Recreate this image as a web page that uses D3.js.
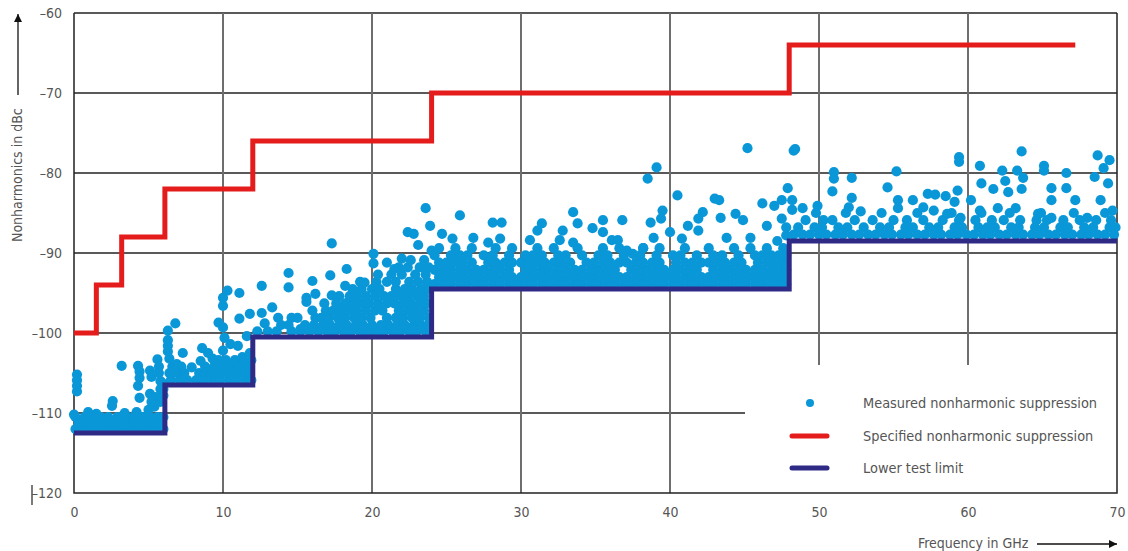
<!DOCTYPE html>
<html>
<head>
<meta charset="utf-8">
<script src="https://cdn.jsdelivr.net/npm/d3@7"></script>
<style>
body { margin: 0; background: #fff; }
svg text { font-family: "Liberation Sans Narrow", "DejaVu Sans Condensed", "Arial Narrow", Arial, sans-serif; fill: #555; }
</style>
</head>
<body>
<div id="chart"></div>
<script>
// axis ticks
const xTicks = [0, 10, 20, 30, 40, 50, 60, 70];
const yTicks = [-60, -70, -80, -90, -100, -110, -120];

// specified nonharmonic suppression (step starts, GHz / dBc)
const specGHz = [0, 1.5, 3.2, 6.1, 12, 24, 48, 67.2];
const specDbc = [-100, -94, -88, -82, -76, -70, -64, -64];

// lower test limit
const limitGHz = [0, 6.1, 12, 24, 48, 70];
const limitDbc = [-112.5, -106.5, -100.5, -94.5, -88.5, -88.5];

// measured points, dense parts as rows: [dBc, [GHz...]]
const dense0to6 = [
  [-112.0, [0.1, 0.6, 1.1, 1.7, 2.2, 2.8, 3.3, 3.9, 4.4, 5.0, 5.5, 6.0]],
  [-111.3, [0.3, 0.9, 1.4, 2.0, 2.5, 3.1, 3.6, 4.2, 4.7, 5.3, 5.8]],
  [-110.5, [0.1, 0.7, 1.2, 1.8, 2.3, 2.9, 3.5, 4.0, 4.6, 5.1, 5.6, 6.0]]
];
const sparse0to6 = [
  [0.2, -105.2], [0.2, -105.9], [0.2, -106.6], [0.2, -107.3], [0.0, -110.2],
  [0.95, -109.9], [1.5, -110.1], [2.55, -109.1], [2.6, -108.5], [3.4, -110.0],
  [4.2, -109.9], [5.0, -109.6], [5.4, -109.2], [5.8, -108.6], [6.0, -107.8],
  [6.0, -107.0], [5.9, -106.2], [3.2, -104.1], [4.3, -104.1], [4.4, -104.8],
  [4.4, -105.6], [4.3, -106.6], [4.4, -108.1], [5.1, -104.7], [5.2, -105.5],
  [5.1, -107.6], [5.6, -103.3], [5.7, -104.2], [5.7, -105.0], [5.8, -106.0],
  [5.8, -107.0], [5.5, -108.0], [5.2, -108.6]
];

const dense6to12 = [
  [-105.9, [6.5, 7.1, 7.6, 8.2, 8.7, 9.3, 9.8, 10.4, 10.9, 11.5, 11.9]],
  [-105.0, [6.4, 6.9, 7.4, 8.4, 9.0, 9.6, 10.1, 10.7, 11.2, 11.7]],
  [-104.2, [6.6, 7.2, 8.8, 9.4, 9.9, 10.5, 11.0, 11.6]],
  [-103.4, [10.2, 10.8, 11.3, 11.9]]
];
const sparse6to12 = [
  [6.3, -99.7], [6.8, -98.8], [6.3, -100.9], [6.3, -101.6], [6.3, -102.3],
  [6.4, -103.2], [6.9, -103.9], [7.3, -102.5], [7.3, -105.6], [8.6, -101.9],
  [8.5, -103.5], [9.3, -103.2], [9.0, -102.5], [9.7, -103.4], [10.0, -102.2],
  [10.5, -101.4], [11.0, -101.6], [11.3, -103.0], [11.8, -102.5], [11.6, -100.4],
  [10.0, -95.6], [10.3, -94.7], [11.1, -95.0], [10.0, -96.6], [9.7, -98.7],
  [10.0, -99.3], [11.1, -98.2], [11.8, -97.6], [10.1, -100.6], [7.9, -104.3]
];

const dense12to24 = [
  [-99.8, [12.3, 13.0, 13.6, 14.6, 15.2, 15.8, 16.4, 17.0, 17.5, 18.1, 18.6, 19.2, 19.7, 20.3, 20.8, 21.4, 21.9, 22.5, 23.0, 23.6]],
  [-99.0, [13.9, 14.4, 15.5, 16.1, 16.7, 17.2, 17.8, 18.3, 18.9, 19.4, 20.0, 20.6, 21.1, 21.7, 22.2, 22.8, 23.3, 23.8]],
  [-98.1, [15.0, 16.2, 16.6, 17.1, 17.7, 18.2, 18.8, 19.3, 19.9, 21.0, 21.6, 22.1, 22.7, 23.2, 23.8]],
  [-97.2, [16.0, 16.9, 17.4, 17.9, 18.5, 19.0, 19.6, 20.2, 20.7, 21.8, 22.4, 22.9, 23.5]],
  [-96.3, [16.8, 17.6, 18.2, 18.7, 19.3, 19.8, 20.4, 21.0, 21.5, 22.1, 22.6, 23.2, 23.7]],
  [-95.4, [17.8, 18.5, 19.0, 19.6, 20.2, 20.8, 21.3, 21.9, 22.4, 23.0, 23.5]],
  [-94.5, [18.7, 19.3, 20.0, 20.5, 21.6, 22.2, 22.7, 23.3, 23.8]],
  [-93.6, [19.2, 20.3, 21.0, 21.6, 22.5, 23.1, 23.7]],
  [-92.7, [20.4, 21.3, 22.0, 22.9, 23.6]],
  [-91.8, [21.8, 22.4, 23.2, 23.8]],
  [-90.9, [22.6, 23.5]]
];
const sparse12to24 = [
  [12.6, -94.1], [12.6, -97.5], [13.3, -96.8], [12.8, -98.8], [13.7, -98.1],
  [14.6, -98.1], [15.2, -99.5], [14.4, -92.5], [14.4, -94.3], [16.0, -93.5],
  [17.2, -92.8], [17.3, -88.8], [18.3, -92.0], [15.6, -95.6], [15.6, -96.1],
  [16.2, -95.1], [17.3, -95.3], [18.2, -94.1], [19.5, -93.7], [20.1, -90.1],
  [20.1, -91.3], [21.5, -92.0], [22.0, -90.7], [22.4, -87.4], [22.8, -87.6],
  [23.6, -84.4], [23.9, -86.6], [24.0, -89.7], [23.1, -89.0], [21.0, -91.2]
];

const dense24to48 = [
  [-93.9, [24.2, 24.8, 25.3, 25.9, 26.4, 27.0, 27.5, 28.1, 28.6, 29.2, 29.7, 30.3, 30.8, 31.4, 31.9, 32.5, 33.0, 33.6, 34.1, 34.7, 35.2, 35.8, 36.3, 36.9, 37.4, 38.0, 38.5, 39.1, 39.6, 40.2, 40.7, 41.3, 41.8, 42.4, 42.9, 43.5, 44.0, 44.6, 45.1, 45.7, 46.2, 46.8, 47.3, 47.8]],
  [-93.0, [24.5, 25.0, 25.6, 26.1, 26.7, 27.2, 27.8, 28.3, 28.9, 29.4, 30.0, 30.5, 31.1, 31.6, 32.2, 32.7, 33.3, 33.8, 34.4, 34.9, 35.5, 36.0, 36.6, 37.1, 37.7, 38.2, 38.8, 39.3, 39.9, 40.4, 41.0, 41.5, 42.1, 42.6, 43.2, 43.7, 44.3, 44.8, 45.4, 45.9, 46.5, 47.0, 47.6]],
  [-92.1, [24.2, 24.8, 25.3, 25.9, 26.4, 27.0, 27.5, 28.1, 28.6, 29.2, 30.3, 30.8, 31.4, 31.9, 32.5, 33.0, 33.6, 34.1, 34.7, 35.2, 35.8, 36.3, 37.4, 38.0, 38.5, 39.1, 39.6, 40.2, 40.7, 41.3, 41.8, 42.9, 43.5, 44.0, 44.6, 45.1, 45.7, 46.2, 46.8, 47.3, 47.8]],
  [-91.2, [24.5, 25.0, 25.6, 26.1, 26.7, 27.8, 28.3, 28.9, 29.4, 30.0, 30.5, 31.1, 31.6, 32.2, 32.7, 33.3, 34.4, 34.9, 35.5, 36.0, 36.6, 37.1, 37.7, 38.2, 38.8, 39.3, 40.4, 41.0, 41.5, 42.1, 42.6, 43.2, 43.7, 44.3, 44.8, 45.9, 46.5, 47.0, 47.6]],
  [-90.3, [24.2, 25.3, 25.9, 26.4, 27.5, 28.1, 29.2, 30.3, 30.8, 31.4, 32.5, 33.0, 34.1, 35.2, 35.8, 36.9, 38.0, 39.1, 40.2, 40.7, 41.8, 42.9, 43.5, 44.6, 45.7, 46.2, 46.8, 47.3, 47.8]],
  [-89.4, [24.5, 25.6, 26.7, 28.3, 29.4, 31.1, 32.2, 33.8, 35.5, 36.6, 38.2, 39.3, 41.0, 42.6, 44.3, 45.4, 46.5, 47.6]]
];
const sparse24to48 = [
  [24.7, -87.6], [25.9, -85.3], [25.4, -88.2], [26.8, -88.1], [27.8, -88.7],
  [28.1, -86.2], [28.7, -86.2], [28.6, -88.2], [30.6, -88.4], [31.1, -87.2],
  [31.4, -86.3], [32.6, -88.4], [32.8, -87.2], [33.5, -84.9], [33.8, -86.3],
  [33.5, -88.7], [34.8, -86.9], [35.5, -85.9], [35.5, -87.4], [36.1, -88.4],
  [36.8, -85.9], [36.5, -88.4], [38.5, -80.7], [39.1, -79.3], [40.5, -82.8],
  [43.0, -83.2], [43.3, -83.4], [45.2, -76.9], [48.3, -77.2], [47.9, -81.9],
  [46.2, -83.8], [47.0, -84.1], [47.5, -83.4], [38.7, -86.2], [39.5, -84.7],
  [39.4, -85.7], [42.2, -84.9], [41.9, -85.7], [41.2, -86.6], [43.4, -85.6],
  [44.4, -85.1], [44.9, -85.9], [41.9, -87.2], [40.8, -88.2], [43.8, -88.1],
  [45.4, -88.1], [46.5, -86.6], [47.5, -85.7], [40.0, -87.4], [38.9, -88.1],
  [38.2, -89.4], [37.5, -90.1], [37.1, -89.7], [47.8, -86.8], [47.8, -87.8],
  [47.2, -88.5]
];

const dense48to70 = [
  [-87.7, [48.3, 48.9, 49.4, 50.0, 50.5, 51.1, 51.6, 52.2, 52.7, 53.3, 53.8, 54.4, 54.9, 55.5, 56.0, 56.6, 57.1, 57.7, 58.2, 58.8, 59.3, 59.9, 60.4, 61.0, 61.5, 62.1, 62.6, 63.2, 63.7, 64.3, 64.8, 65.4, 65.9, 66.5, 67.0, 67.6, 68.1, 68.7, 69.2, 69.8]],
  [-86.8, [48.6, 49.7, 50.2, 51.3, 51.9, 53.0, 54.1, 54.7, 55.8, 56.3, 57.4, 58.0, 59.1, 59.6, 60.7, 61.3, 61.8, 62.9, 63.4, 64.5, 65.1, 66.2, 66.7, 67.8, 68.4, 69.5, 69.9]],
  [-85.9, [49.1, 50.3, 50.9, 52.4, 53.6, 55.0, 55.9, 57.0, 58.3, 59.4, 60.5, 61.6, 62.4, 63.5, 64.6, 65.3, 66.4, 67.5, 68.6, 69.6]],
  [-85.0, [49.8, 51.8, 54.2, 56.6, 58.9, 60.9, 62.8, 64.9, 67.1, 69.2]]
];
const sparse48to70 = [
  [48.4, -77.0], [51.0, -79.9], [51.0, -80.7], [52.2, -80.6], [55.2, -79.8],
  [54.6, -81.8], [50.9, -82.3], [52.2, -83.1], [52.0, -84.3], [52.8, -84.8],
  [49.9, -84.1], [48.9, -84.4], [48.2, -83.4], [48.2, -84.6], [55.3, -83.4],
  [55.3, -84.4], [56.3, -83.4], [57.3, -82.6], [57.8, -82.7], [58.5, -82.9],
  [59.4, -78.0], [59.4, -78.6], [59.3, -82.2], [57.0, -84.3], [57.7, -84.7],
  [58.6, -85.1], [63.6, -77.3], [60.8, -79.1], [62.3, -79.7], [63.3, -79.7],
  [65.1, -79.1], [65.1, -79.7], [66.6, -80.0], [68.7, -77.8], [69.5, -78.4],
  [69.1, -79.4], [68.5, -80.5], [69.4, -81.3], [63.7, -80.6], [62.5, -81.0],
  [60.9, -81.3], [62.7, -82.4], [63.6, -82.0], [65.6, -81.9], [66.6, -81.9],
  [67.2, -83.4], [65.6, -83.4], [62.0, -84.4], [63.2, -84.4], [64.7, -85.1],
  [68.9, -83.4], [69.7, -84.7], [59.1, -83.6], [60.2, -83.4], [60.8, -84.7],
  [59.5, -85.6], [65.6, -85.6], [68.0, -85.6], [61.7, -82.0]
];

const legendItems = ["Measured nonharmonic suppression", "Specified nonharmonic suppression", "Lower test limit"];

const width = 1128, height = 551;
const blue = "#0a97d8", red = "#e41c1c", navy = "#2e2a86";

const x = d3.scaleLinear().domain([0, 70]).range([74, 1117]);
const y = d3.scaleLinear().domain([-120, -60]).range([493, 13]);

const svg = d3.select("#chart").append("svg")
  .attr("width", width)
  .attr("height", height);

// horizontal grid
svg.append("g").selectAll("line")
  .data(yTicks.filter(d => d > -120))
  .join("line")
  .attr("x1", x(0))
  .attr("x2", d => d === -110 ? 745 : x(70))
  .attr("y1", d => y(d)).attr("y2", d => y(d))
  .attr("stroke", "#222").attr("stroke-width", 1.3);

// vertical grid (gray), stopping above the legend for 50 and 60
svg.append("g").selectAll("line")
  .data(xTicks.filter(d => d > 0 && d < 70))
  .join("line")
  .attr("x1", d => x(d)).attr("x2", d => x(d))
  .attr("y1", y(-60))
  .attr("y2", d => d >= 50 ? 365 : y(-120))
  .attr("stroke", "#6e6e6e").attr("stroke-width", 2);

// frame: left, bottom, right
svg.append("path")
  .attr("d", `M${x(0)},${y(-60)}V${y(-120)}H${x(70)}V${y(-60)}`)
  .attr("fill", "none").attr("stroke", "#222").attr("stroke-width", 1.5);

// measured points
const rowsToPoints = rows => rows.flatMap(([db, ghz]) => ghz.map(g => [g, db]));
const measured = [].concat(
  rowsToPoints(dense0to6), sparse0to6,
  rowsToPoints(dense6to12), sparse6to12,
  rowsToPoints(dense12to24), sparse12to24,
  rowsToPoints(dense24to48), sparse24to48,
  rowsToPoints(dense48to70), sparse48to70
);

svg.append("g").selectAll("circle")
  .data(measured)
  .join("circle")
  .attr("cx", d => x(d[0]))
  .attr("cy", d => y(d[1]))
  .attr("r", 5.1)
  .attr("fill", blue);

// step lines
const step = d3.line().curve(d3.curveStepAfter).x(d => x(d[0])).y(d => y(d[1]));
const limitPts = limitGHz.map((g, i) => [g, limitDbc[i]]);
const specPts = specGHz.map((g, i) => [g, specDbc[i]]);

svg.append("path").attr("d", step(limitPts))
  .attr("fill", "none").attr("stroke", navy).attr("stroke-width", 5);
svg.append("path").attr("d", step(specPts))
  .attr("fill", "none").attr("stroke", red).attr("stroke-width", 5);

// axes labels
const xAxis = svg.append("g")
  .attr("transform", `translate(0,${y(-120)})`)
  .call(d3.axisBottom(x).tickValues(xTicks).tickSize(0).tickPadding(14));
xAxis.select(".domain").remove();

const yAxis = svg.append("g")
  .attr("transform", `translate(${x(0)},0)`)
  .call(d3.axisLeft(y).tickValues(yTicks).tickSize(0).tickPadding(12)
    .tickFormat(d => "\u2013" + Math.abs(d)));
yAxis.select(".domain").remove();

svg.selectAll(".tick text")
  .attr("font-size", 14)
  .attr("font-family", null)
  .attr("fill", "#555");

// odd little bar left of -120
svg.append("line")
  .attr("x1", 32).attr("x2", 32).attr("y1", 485).attr("y2", 505)
  .attr("stroke", "#333").attr("stroke-width", 1.3);

// axis titles with arrows
svg.append("defs").append("marker")
  .attr("id", "arrow").attr("viewBox", "0 0 10 10")
  .attr("refX", 10).attr("refY", 5)
  .attr("markerWidth", 10).attr("markerHeight", 8)
  .attr("markerUnits", "userSpaceOnUse")
  .attr("orient", "auto")
  .append("path").attr("d", "M0,0L10,5L0,10Z").attr("fill", "#111");

svg.append("text")
  .attr("transform", "translate(22,242) rotate(-90)")
  .attr("font-size", 14)
  .text("Nonharmonics in dBc");
svg.append("line")
  .attr("x1", 18).attr("x2", 18).attr("y1", 95).attr("y2", 14)
  .attr("stroke", "#111").attr("stroke-width", 1.3)
  .attr("marker-end", "url(#arrow)");

svg.append("text")
  .attr("x", 918).attr("y", 548)
  .attr("font-size", 14)
  .text("Frequency in GHz");
svg.append("line")
  .attr("x1", 1037).attr("x2", 1117).attr("y1", 544).attr("y2", 544)
  .attr("stroke", "#111").attr("stroke-width", 1.3)
  .attr("marker-end", "url(#arrow)");

// legend
const legend = svg.append("g");
const legY = [403, 436, 468];
legend.append("circle").attr("cx", 810).attr("cy", legY[0]).attr("r", 4).attr("fill", blue);
legend.append("line").attr("x1", 792).attr("x2", 827).attr("y1", legY[1]).attr("y2", legY[1])
  .attr("stroke", red).attr("stroke-width", 5).attr("stroke-linecap", "round");
legend.append("line").attr("x1", 792).attr("x2", 827).attr("y1", legY[2]).attr("y2", legY[2])
  .attr("stroke", navy).attr("stroke-width", 5).attr("stroke-linecap", "round");
legend.selectAll("text")
  .data(legendItems)
  .join("text")
  .attr("x", 863)
  .attr("y", (d, i) => legY[i] + 5)
  .attr("font-size", 14.4)
  .text(d => d);
</script>
</body>
</html>
